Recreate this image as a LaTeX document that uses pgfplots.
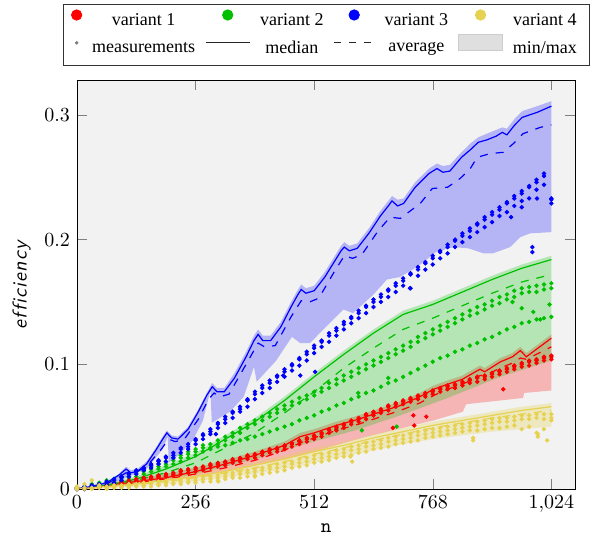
\documentclass[border=0pt]{standalone}
\usepackage{fontspec}
\setmainfont{Liberation Serif}
\usepackage{pgfplots}
\usepackage{pgfplotstable}
\usepgfplotslibrary{fillbetween}
\pgfplotsset{compat=1.18}
\definecolor{v1}{RGB}{255,0,0}
\definecolor{v2}{RGB}{0,192,0}
\definecolor{v3}{RGB}{0,0,255}
\definecolor{v4}{RGB}{230,210,80}

\pgfplotstableread{
x a b c
0 0.000 0.001 0.000
16 0.001 0.002 0.000
32 0.003 0.002 0.001
48 0.004 0.003 0.002
64 0.005 0.006 0.003
80 0.007 0.008 0.005
96 0.010 0.009 0.007
112 0.012 0.013 0.010
128 0.014 0.015 0.012
144 0.017 0.016 0.015
160 0.020 0.019 0.017
176 0.022 0.023 0.020
192 0.025 0.026 0.022
208 0.029 0.027 0.025
224 0.032 0.033 0.029
240 0.036 0.034 0.032
256 0.039 0.040 0.036
272 0.043 0.044 0.040
288 0.048 0.046 0.044
304 0.052 0.053 0.049
320 0.056 0.058 0.053
336 0.061 0.062 0.057
352 0.066 0.064 0.062
368 0.071 0.072 0.066
384 0.076 0.078 0.072
400 0.081 0.083 0.077
416 0.085 0.087 0.081
432 0.090 0.091 0.086
448 0.094 0.096 0.090
464 0.099 0.100 0.095
480 0.104 0.105 0.099
496 0.108 0.110 0.103
512 0.113 0.115 0.109
528 0.118 0.119 0.114
544 0.123 0.125 0.118
560 0.127 0.129 0.123
576 0.132 0.134 0.128
592 0.137 0.138 0.133
608 0.141 0.143 0.137
624 0.146 0.147 0.141
640 0.150 0.152 0.146
656 0.154 0.156 0.150
672 0.159 0.160 0.154
688 0.163 0.165 0.158
704 0.167 0.169 0.163
720 0.172 0.173 0.161
736 0.176 0.178 0.171
752 0.181 0.182 0.176
768 0.185 0.187 0.180
784 0.190 0.191 0.185
800 0.194 0.196 0.189
816 0.199 0.200 0.194
832 0.203 0.205 0.198
848 0.207 0.209 0.202
864 0.212 0.213 0.206
880 0.216 0.218 0.210
896 0.220 0.222 0.214
912 0.224 0.226 0.219
928 0.229 0.230 0.222
944 0.233 0.235 0.227
960 0.237 0.239 0.231
976 0.242 0.243 0.233
992 0.246 0.248 0.240
1008 0.251 0.253 0.244
1024 0.232 0.229 0.233
}\bluepts

\pgfplotstableread{
x a b c
0 0.000 0.001 0.000
16 0.001 0.000 0.002
32 0.003 0.002 0.004
48 0.004 0.003 0.005
64 0.005 0.004 0.007
80 0.007 0.006 0.008
96 0.009 0.007 0.010
112 0.010 0.009 0.012
128 0.012 0.010 0.014
144 0.014 0.012 0.016
160 0.016 0.014 0.018
176 0.018 0.016 0.020
192 0.020 0.018 0.022
208 0.023 0.020 0.025
224 0.025 0.022 0.027
240 0.028 0.025 0.030
256 0.030 0.027 0.032
272 0.033 0.030 0.035
288 0.036 0.033 0.032
304 0.039 0.036 0.034
320 0.042 0.039 0.035
336 0.045 0.042 0.037
352 0.049 0.045 0.039
368 0.052 0.049 0.040
384 0.055 0.052 0.042
400 0.058 0.055 0.044
416 0.061 0.058 0.046
432 0.064 0.061 0.048
448 0.067 0.064 0.050
464 0.070 0.067 0.052
480 0.073 0.069 0.055
496 0.075 0.072 0.057
512 0.078 0.075 0.059
528 0.081 0.078 0.062
544 0.085 0.081 0.064
560 0.088 0.084 0.067
576 0.091 0.087 0.069
592 0.094 0.090 0.072
608 0.097 0.093 0.074
624 0.100 0.096 0.077
640 0.103 0.099 0.079
656 0.106 0.102 0.082
672 0.109 0.105 0.085
688 0.112 0.108 0.087
704 0.115 0.111 0.090
720 0.118 0.114 0.093
736 0.122 0.118 0.096
752 0.125 0.121 0.099
768 0.128 0.124 0.102
784 0.131 0.127 0.105
800 0.134 0.130 0.107
816 0.137 0.133 0.110
832 0.140 0.136 0.112
848 0.143 0.139 0.115
864 0.146 0.141 0.117
880 0.148 0.144 0.120
896 0.151 0.147 0.122
912 0.154 0.149 0.125
928 0.156 0.152 0.128
944 0.159 0.154 0.130
960 0.161 0.157 0.133
976 0.162 0.158 0.134
992 0.163 0.158 0.136
1008 0.164 0.160 0.137
1024 0.165 0.161 0.138
}\greenpts

\pgfplotstableread{
x a b c
0 0.000 0.001 0.000
16 0.001 0.000 0.001
32 0.002 0.001 0.002
48 0.002 0.001 0.003
64 0.003 0.002 0.004
80 0.004 0.003 0.005
96 0.005 0.004 0.006
112 0.006 0.005 0.007
128 0.007 0.006 0.008
144 0.008 0.007 0.009
160 0.009 0.008 0.010
176 0.010 0.009 0.011
192 0.011 0.010 0.012
208 0.012 0.011 0.013
224 0.014 0.012 0.015
240 0.015 0.013 0.016
256 0.016 0.014 0.017
272 0.017 0.015 0.018
288 0.019 0.017 0.020
304 0.020 0.018 0.021
320 0.021 0.019 0.022
336 0.023 0.021 0.024
352 0.024 0.022 0.025
368 0.026 0.024 0.027
384 0.027 0.025 0.028
400 0.029 0.027 0.030
416 0.031 0.029 0.032
432 0.032 0.030 0.033
448 0.034 0.032 0.035
464 0.036 0.034 0.037
480 0.038 0.036 0.039
496 0.040 0.038 0.041
512 0.042 0.040 0.043
528 0.044 0.042 0.045
544 0.047 0.045 0.048
560 0.049 0.047 0.050
576 0.051 0.049 0.052
592 0.054 0.052 0.055
608 0.056 0.054 0.057
624 0.059 0.056 0.060
640 0.061 0.059 0.062
656 0.063 0.061 0.064
672 0.066 0.063 0.067
688 0.068 0.066 0.069
704 0.070 0.068 0.071
720 0.072 0.070 0.073
736 0.074 0.072 0.075
752 0.076 0.074 0.077
768 0.078 0.076 0.079
784 0.080 0.078 0.081
800 0.082 0.080 0.083
816 0.083 0.081 0.084
832 0.085 0.083 0.086
848 0.087 0.085 0.088
864 0.089 0.086 0.090
880 0.090 0.088 0.091
896 0.092 0.090 0.093
912 0.094 0.092 0.095
928 0.096 0.094 0.097
944 0.098 0.096 0.099
960 0.100 0.098 0.101
976 0.102 0.099 0.103
992 0.103 0.101 0.104
1008 0.105 0.103 0.106
1024 0.106 0.104 0.107
}\redpts

\pgfplotstableread{
x a b c
0 0.000 0.001 0.002
16 0.001 0.000 0.004
32 0.001 0.000 0.007
48 0.002 0.001 0.003
64 0.002 0.001 0.000
80 0.003 0.001 0.002
96 0.003 0.002 0.001
112 0.004 0.002 0.001
128 0.004 0.003 0.002
144 0.005 0.003 0.002
160 0.005 0.004 0.002
176 0.006 0.004 0.003
192 0.006 0.005 0.003
208 0.007 0.005 0.004
224 0.008 0.006 0.004
240 0.008 0.006 0.005
256 0.009 0.007 0.005
272 0.010 0.008 0.006
288 0.010 0.008 0.006
304 0.011 0.009 0.007
320 0.012 0.010 0.008
336 0.013 0.011 0.009
352 0.014 0.012 0.009
368 0.015 0.013 0.010
384 0.016 0.014 0.011
400 0.017 0.015 0.012
416 0.018 0.016 0.013
432 0.020 0.017 0.014
448 0.021 0.018 0.015
464 0.022 0.020 0.017
480 0.024 0.021 0.018
496 0.025 0.022 0.019
512 0.027 0.024 0.021
528 0.028 0.025 0.022
544 0.029 0.026 0.023
560 0.031 0.028 0.025
576 0.032 0.029 0.026
592 0.034 0.031 0.027
608 0.035 0.032 0.029
624 0.037 0.034 0.030
640 0.038 0.035 0.032
656 0.039 0.036 0.033
672 0.041 0.038 0.034
688 0.042 0.039 0.036
704 0.043 0.040 0.037
720 0.044 0.041 0.038
736 0.046 0.043 0.039
752 0.047 0.044 0.041
768 0.048 0.045 0.042
784 0.049 0.046 0.043
800 0.050 0.047 0.044
816 0.051 0.048 0.045
832 0.052 0.049 0.046
848 0.053 0.050 0.047
864 0.054 0.051 0.047
880 0.055 0.052 0.048
896 0.056 0.053 0.049
912 0.057 0.054 0.049
928 0.057 0.054 0.050
944 0.058 0.055 0.051
960 0.059 0.056 0.048
976 0.059 0.056 0.050
992 0.060 0.057 0.045
1008 0.060 0.056 0.048
1024 0.060 0.057 0.055
}\yellowpts

\pgfplotstableread{
x med avg mx mn
0 0 0 0 0
64 0.002 0.0015 0.003 0.001
128 0.004 0.0035 0.006 0.002
192 0.007 0.006 0.009 0.004
256 0.010 0.009 0.013 0.006
320 0.014 0.013 0.017 0.009
384 0.019 0.017 0.022 0.012
448 0.024 0.022 0.027 0.016
512 0.030 0.028 0.033 0.021
576 0.035 0.033 0.038 0.026
640 0.041 0.039 0.044 0.031
704 0.046 0.044 0.049 0.036
768 0.051 0.049 0.054 0.040
832 0.055 0.053 0.058 0.043
896 0.059 0.057 0.062 0.046
960 0.063 0.060 0.066 0.048
1024 0.066 0.063 0.069 0.050
}\yellowlines

\pgfplotstableread{
x med avg mx
0 0 0 0
64 0.003 0.003 0.004
128 0.008 0.007 0.010
192 0.016 0.013 0.019
256 0.026 0.021 0.029
320 0.040 0.033 0.043
384 0.054 0.045 0.057
448 0.071 0.061 0.074
512 0.090 0.078 0.093
576 0.108 0.097 0.111
640 0.125 0.113 0.128
704 0.140 0.128 0.143
768 0.148 0.137 0.151
832 0.158 0.147 0.161
896 0.168 0.157 0.171
960 0.177 0.166 0.180
1024 0.184 0.172 0.187
}\greenlines

\pgfplotstableread{
x med avg mx
0 0 0 0
64 0.003 0.002 0.004
128 0.006 0.005 0.008
192 0.009 0.008 0.012
256 0.014 0.012 0.017
320 0.020 0.017 0.023
384 0.027 0.023 0.030
448 0.035 0.031 0.038
482 0.042 0.037 0.045
512 0.045 0.041 0.048
560 0.051 0.047 0.054
608 0.056 0.052 0.059
640 0.060 0.056 0.063
698 0.067 0.063 0.070
740 0.074 0.069 0.077
770 0.080 0.075 0.083
800 0.084 0.080 0.087
832 0.088 0.084 0.091
860 0.094 0.089 0.097
870 0.096 0.091 0.099
880 0.094 0.091 0.097
914 0.102 0.097 0.105
940 0.106 0.101 0.109
957 0.111 0.105 0.114
970 0.106 0.104 0.109
1024 0.121 0.114 0.124
}\redlines

\begin{document}
\begin{tikzpicture}
\begin{axis}[
  scale only axis, width=249pt, height=204.5pt,
  xmin=0, xmax=1075, ymin=0, ymax=0.328,
  xtick={0,256,512,768,1024}, ytick={0,0.1,0.2,0.3},
  axis background/.style={fill=gray!10},
  major tick style={gray}, major tick length=5pt,
  xlabel={\texttt{n}},
  xlabel style={yshift=1.5pt},
  ylabel={\textsf{\itshape e\kern0.6pt f\kern0.6pt f\kern0.6pt i\kern0.6pt c\kern0.6pt i\kern0.6pt e\kern0.6pt n\kern0.6pt c\kern0.6pt y}},
  legend columns=4,
  legend cell align=center,
  legend style={at={(0.5,1)}, anchor=south, yshift=7pt, font=\small,
    draw=black!80, inner xsep=4pt, inner ysep=2.5pt, column sep=3pt, row sep=1pt},
]
\addlegendimage{legend image code/.code={\fill[v1] (0pt,3pt) circle (2.6pt);}}
\addlegendentry{variant 1}
\addlegendimage{legend image code/.code={\fill[v2] (0pt,3pt) circle (2.6pt);}}
\addlegendentry{variant 2}
\addlegendimage{legend image code/.code={\fill[v3] (0pt,3pt) circle (2.6pt);}}
\addlegendentry{variant 3}
\addlegendimage{legend image code/.code={\fill[v4] (0pt,3pt) circle (2.6pt);}}
\addlegendentry{variant 4}
\addlegendimage{legend image code/.code={\fill[gray] (0pt,3pt) circle (0.7pt);}}
\addlegendentry{measurements}
\addlegendimage{legend image code/.code={\draw[black!85, line width=0.5pt] (-11pt,3pt) -- (11pt,3pt);}}
\addlegendentry{median}
\addlegendimage{legend image code/.code={\draw[black!85, line width=0.5pt, dash pattern=on 3.5pt off 4pt] (-10pt,3pt) -- (10pt,3pt);}}
\addlegendentry{average}
\addlegendimage{legend image code/.code={\draw[fill=gray!25, draw=gray!40] (-11pt,-1pt) rectangle (11pt,7pt);}}
\addlegendentry{min/max}

% ---- bands ----
% red
\addplot[draw=none, forget plot, name path=rmax] table[x=x,y=mx]{\redlines};
\addplot[draw=none, forget plot, name path=rmin] coordinates {(0,0)(128,0.004)(256,0.010)(384,0.019)(482,0.027)(626,0.042)(770,0.055)(833,0.062)(840,0.068)(963,0.073)(965,0.077)(1024,0.079)};
\addplot[fill=v1, fill opacity=0.25, draw=none, forget plot] fill between[of=rmax and rmin];
% green
\addplot[draw=none, forget plot, name path=gmax] table[x=x,y=mx]{\greenlines};
\addplot[draw=none, forget plot, name path=gmin] coordinates {(0,0)(128,0.004)(256,0.012)(384,0.024)(482,0.035)(600,0.047)(698,0.059)(800,0.073)(914,0.090)(1024,0.103)};
\addplot[fill=v2, fill opacity=0.25, draw=none, forget plot] fill between[of=gmax and gmin];
% blue
\addplot[draw=none, forget plot, name path=bmax] coordinates {(0,0)(32,0.003)(64,0.006)(90,0.012)(106,0.018)(116,0.015)(130,0.016)(150,0.022)(170,0.033)(185,0.042)(194,0.047)(204,0.043)(218,0.042)(240,0.050)(262,0.064)(280,0.077)(292,0.085)(302,0.081)(318,0.081)(340,0.093)(365,0.110)(382,0.123)(391,0.128)(401,0.123)(418,0.123)(440,0.134)(462,0.150)(477,0.160)(484,0.164)(494,0.161)(512,0.163)(535,0.174)(555,0.186)(570,0.195)(577,0.198)(588,0.195)(605,0.197)(630,0.209)(655,0.223)(672,0.231)(680,0.235)(692,0.232)(705,0.233)(730,0.246)(760,0.257)(777,0.261)(790,0.259)(805,0.260)(830,0.270)(849,0.277)(866,0.282)(885,0.285)(905,0.288)(918,0.290)(928,0.289)(945,0.297)(961,0.303)(993,0.307)(1024,0.311)};
\addplot[draw=none, forget plot, name path=bmin] coordinates {(0,0)(64,0.003)(100,0.008)(150,0.016)(185,0.032)(196,0.042)(198,0.021)(225,0.029)(250,0.039)(272,0.055)(288,0.079)(291,0.053)(330,0.062)(360,0.074)(382,0.098)(388,0.086)(430,0.103)(464,0.122)(482,0.117)(503,0.117)(540,0.131)(575,0.144)(596,0.141)(640,0.156)(669,0.168)(697,0.170)(734,0.178)(775,0.190)(812,0.194)(845,0.193)(877,0.189)(898,0.189)(935,0.194)(957,0.202)(978,0.205)(1024,0.206)};
\addplot[fill=v3, fill opacity=0.25, draw=none, forget plot] fill between[of=bmax and bmin];
% yellow
\addplot[draw=none, forget plot, name path=ymax] table[x=x,y=mx]{\yellowlines};
\addplot[draw=none, forget plot, name path=ymin] table[x=x,y=mn]{\yellowlines};
\addplot[fill=v4, fill opacity=0.3, draw=none, forget plot] fill between[of=ymax and ymin];

% ---- lines ----
\addplot[v1, line width=0.6pt, forget plot] table[x=x,y=med]{\redlines};
\addplot[v1, line width=0.6pt, dash pattern=on 4pt off 4pt, forget plot] table[x=x,y=avg]{\redlines};
\addplot[v2, line width=0.6pt, forget plot] table[x=x,y=med]{\greenlines};
\addplot[v2, line width=0.6pt, dash pattern=on 4pt off 4pt, forget plot] table[x=x,y=avg]{\greenlines};
\addplot[v3, line width=0.6pt, forget plot] coordinates {(0,0)(32,0.002)(64,0.005)(90,0.011)(106,0.016)(116,0.013)(130,0.014)(150,0.020)(170,0.031)(185,0.040)(194,0.045)(204,0.041)(218,0.040)(240,0.048)(262,0.062)(280,0.075)(292,0.082)(302,0.078)(318,0.078)(340,0.089)(365,0.106)(382,0.119)(391,0.124)(401,0.119)(418,0.119)(440,0.130)(462,0.146)(477,0.156)(484,0.160)(494,0.157)(512,0.159)(535,0.170)(555,0.182)(570,0.191)(577,0.194)(588,0.191)(605,0.193)(630,0.205)(655,0.219)(672,0.227)(680,0.231)(692,0.227)(705,0.229)(730,0.242)(760,0.253)(777,0.257)(790,0.254)(805,0.255)(830,0.266)(849,0.272)(866,0.278)(885,0.280)(905,0.283)(918,0.286)(928,0.284)(945,0.292)(961,0.298)(993,0.302)(1024,0.307)};
\addplot[v3, line width=0.6pt, dash pattern=on 4pt off 4pt, forget plot] coordinates {(0,0)(64,0.004)(106,0.013)(120,0.012)(150,0.018)(180,0.031)(198,0.040)(212,0.038)(232,0.040)(262,0.056)(284,0.072)(296,0.077)(308,0.074)(328,0.076)(365,0.100)(391,0.117)(405,0.114)(428,0.115)(462,0.138)(484,0.151)(502,0.150)(522,0.153)(555,0.174)(577,0.187)(595,0.185)(615,0.188)(650,0.207)(676,0.218)(698,0.217)(741,0.229)(767,0.241)(800,0.242)(827,0.249)(849,0.257)(864,0.266)(892,0.269)(920,0.270)(942,0.277)(963,0.285)(1000,0.290)(1024,0.292)};
\addplot[v4, line width=0.6pt, forget plot] table[x=x,y=med]{\yellowlines};
\addplot[v4, line width=0.6pt, dash pattern=on 4pt off 4pt, forget plot] table[x=x,y=avg]{\yellowlines};

% ---- measurements ----
\pgfplotsset{meas/.style={only marks, mark=*, mark size=0.9pt, forget plot}}
\addplot[meas, v2] table[x=x,y=a]{\greenpts};
\addplot[meas, v2] table[x=x,y=b]{\greenpts};
\addplot[meas, v2] table[x=x,y=c]{\greenpts};
\addplot[meas, v2] coordinates {(615,0.047)(560,0.048)(690,0.050)(672,0.089)(607,0.077)(1000,0.136)(985,0.142)(960,0.145)(940,0.150)(1020,0.148)};
\addplot[meas, v1] table[x=x,y=a]{\redpts};
\addplot[meas, v1] table[x=x,y=b]{\redpts};
\addplot[meas, v1] table[x=x,y=c]{\redpts};
\addplot[meas, v1] coordinates {(682,0.049)(728,0.051)(754,0.058)(726,0.059)(920,0.080)};
\addplot[meas, v3] table[x=x,y=a]{\bluepts};
\addplot[meas, v3] table[x=x,y=b]{\bluepts};
\addplot[meas, v3] table[x=x,y=c]{\bluepts};
\addplot[meas, v3] coordinates {(983,0.194)(983,0.190)(719,0.161)(514,0.094)(482,0.091)(445,0.091)(993,0.233)(960,0.226)(937,0.218)(300,0.044)};
\addplot[meas, v4] table[x=x,y=a]{\yellowpts};
\addplot[meas, v4] table[x=x,y=b]{\yellowpts};
\addplot[meas, v4] table[x=x,y=c]{\yellowpts};
\addplot[meas, v4] coordinates {(590,0.026)(594,0.022)(855,0.041)(855,0.039)(1015,0.039)(995,0.042)(995,0.044)(305,0.006)(384,0.010)};
\end{axis}
\pgfresetboundingbox
\path[use as bounding box] ([xshift=-38.5pt,yshift=-23.5pt]current axis.south west) rectangle ([xshift=7.5pt,yshift=40pt]current axis.north east);
\end{tikzpicture}
\end{document}
